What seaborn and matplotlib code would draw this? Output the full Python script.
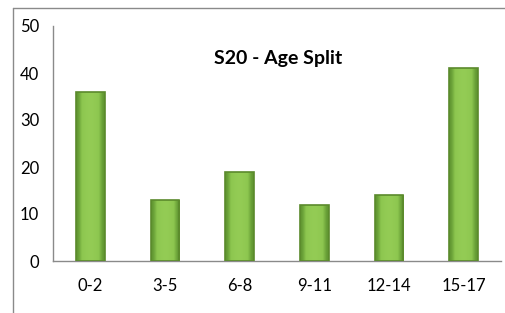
import matplotlib
matplotlib.use("Agg")
import matplotlib.pyplot as plt
import seaborn as sns
import pandas as pd
import numpy as np
from matplotlib.lines import Line2D

categories = ["0-2", "3-5", "6-8", "9-11", "12-14", "15-17"]
values = [36, 13, 19, 12, 14, 41]
title = "S20 - Age Split"
y_ticks = [0, 10, 20, 30, 40, 50]

sns.set_style("white")
plt.rcParams['font.family'] = ['Lato', 'DejaVu Sans']

df = pd.DataFrame({"age": categories, "value": values})

fig = plt.figure(figsize=(5.05, 3.13), dpi=100)
ax = fig.add_axes([53/505, 52/313, 448/505, 235/313])

sns.barplot(data=df, x="age", y="value", ax=ax, color="#8cc64f",
            width=0.38, edgecolor="#5b8a2c", linewidth=1.2, saturation=1)

# gradient shading on each bar
for p in ax.patches:
    x0, y0 = p.get_x(), p.get_y()
    w, h = p.get_width(), p.get_height()
    grad = np.array([[0.0, 0.55, 0.85, 1.0, 0.85, 0.55, 0.0]])
    cmap = matplotlib.colors.LinearSegmentedColormap.from_list(
        "g", ["#5e9430", "#8cc64f", "#94cc55"])
    im = ax.imshow(grad, extent=[x0, x0 + w, y0, y0 + h], aspect="auto",
                   cmap=cmap, vmin=0, vmax=1, interpolation="bicubic", zorder=2)
    im.set_clip_path(p)
    p.set_zorder(3)
    p.set_facecolor("none")

ax.set_xlim(-0.5, len(categories) - 0.5)
ax.set_ylim(0, 50)
ax.set_yticks(y_ticks)
ax.set_xlabel("")
ax.set_ylabel("")

axis_col = "#8a8a8a"
for s in ["top", "right"]:
    ax.spines[s].set_visible(False)
for s in ["left", "bottom"]:
    ax.spines[s].set_color(axis_col)
    ax.spines[s].set_linewidth(1.0)

ax.set_xticks(np.arange(-0.5, len(categories), 1.0), minor=True)
ax.tick_params(axis="x", which="major", length=0, pad=12, labelsize=12, colors="black")
ax.tick_params(axis="x", which="minor", length=5, width=1, color=axis_col, direction="out")
ax.tick_params(axis="y", which="major", length=5, width=1, color=axis_col,
               direction="out", pad=5, labelsize=12, labelcolor="black")
ax.tick_params(axis="x", colors=axis_col, labelcolor="black")

ax.text(0.5025, 0.86, title, transform=ax.transAxes, ha="center", va="center",
        fontsize=14, fontweight="bold", color="black")

# chart border
border = "#8a8a8a"
fig.add_artist(Line2D([13/505, 13/505], [0, 1 - 8/313], transform=fig.transFigure,
                      color=border, linewidth=1.0))
fig.add_artist(Line2D([13/505, 1], [1 - 8/313, 1 - 8/313], transform=fig.transFigure,
                      color=border, linewidth=1.0))

fig.savefig("out.png", dpi=100)
